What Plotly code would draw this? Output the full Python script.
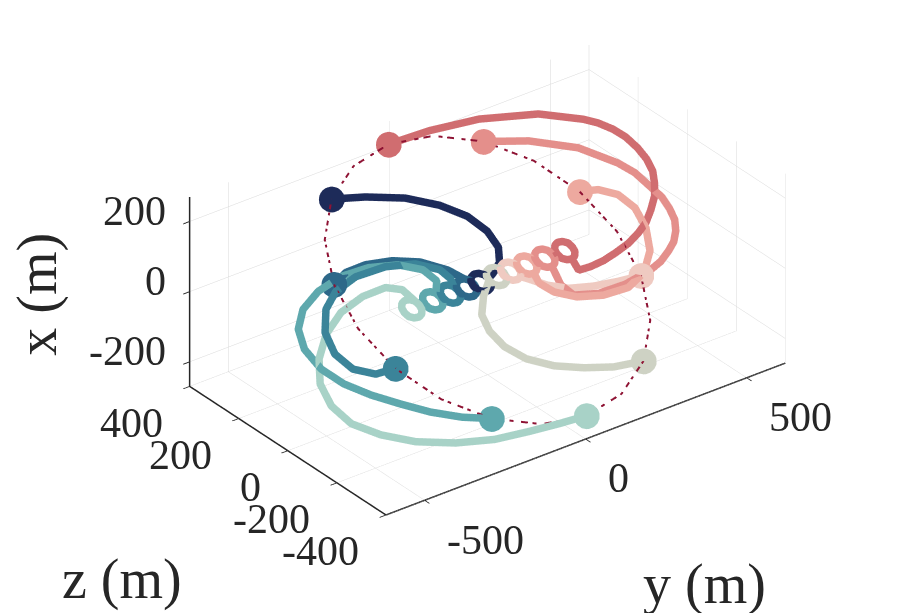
import plotly.graph_objects as go

# trajectory colours, 1 (navy) ... 10 (dark red)
colors = ["#1d2b59", "#2d6889", "#3b8499", "#5ea8ad", "#a8d2c7",
          "#ced2c4", "#efcac1", "#eda99f", "#e48f8b", "#d06d70"]

# formation circle (m)
circle_x = [197, 220, 221, 201, 161, 105, 39, -31, -98, -155, -197,
            -220, -221, -201, -161, -105, -39, 31, 98, 155, 197]
circle_y = [-271, -153, -20, 114, 238, 338, 405, 433, 418, 362, 271,
            153, 20, -114, -238, -338, -405, -433, -418, -362, -271]
circle_z = [280, 345, 377, 371, 329, 255, 156, 42, -77, -188, -280,
            -345, -377, -371, -329, -255, -156, -42, 77, 188, 280]

# trajectories (x, y, z in m)
t1_x = [197, 177, 149, 117, 86, 56, 30, 12, 4,
        -1, -8, -13, -14, -12, -7, 1, 8, 13, 14, 12, 7, -1]
t1_y = [-271, -177, -73, 7, 61, 87, 88, 64, 28,
        7, 6, -3, -16, -30, -42, -47, -46, -37, -24, -10, 2, 7]
t1_z = [280, 265, 240, 204, 162, 115, 71, 35, 13,
        5, -7, -18, -24, -23, -16, -5, 7, 18, 24, 23, 16, 5]

t2_x = [98, 104, 99, 86, 66, 38,
        12, 7, -1, -8, -13, -14, -12, -7, 1, 8, 13, 14, 12]
t2_y = [-418, -365, -298, -220, -148, -88,
        -55, -43, -38, -39, -48, -61, -75, -87, -92, -91, -82, -69, -55]
t2_z = [77, 98, 106, 100, 81, 46,
        23, 16, 5, -7, -18, -24, -23, -16, -5, 7, 18, 24, 23]

t3_x = [-39, -32, -11, 18, 49, 75, 89, 92, 84, 67, 44, 26,
        7, -1, -8, -13, -14, -12, -7, 1, 8, 13, 14, 12, 7]
t3_y = [-405, -468, -520, -541, -528, -484, -426, -346, -249, -164, -109, -96,
        -93, -88, -89, -98, -111, -125, -137, -142, -141, -132, -119, -105, -93]
t3_z = [-156, -159, -134, -88, -31, 23, 59, 83, 89, 79, 51, 24,
        16, 5, -7, -18, -24, -23, -16, -5, 7, 18, 24, 23, 16]

t4_x = [-161, -139, -112, -83, -53, -32, -15, 14, 51, 85, 101, 102, 94, 77, 55, 33,
        7, -1, -8, -13, -14, -12, -7, 1, 8, 13, 14, 12, 7]
t4_y = [-238, -315, -390, -455, -518, -560, -578, -582, -573, -540, -473, -386, -296, -211, -154, -137,
        -148, -143, -144, -153, -166, -180, -192, -197, -196, -187, -174, -160, -148]
t4_z = [-329, -310, -280, -244, -205, -150, -81, -18, 19, 43, 69, 92, 97, 87, 61, 27,
        16, 5, -7, -18, -24, -23, -16, -5, 7, 18, 24, 23, 16]

t5_x = [-221, -212, -201, -187, -164, -136, -110, -102, -84, -46, 3, 41, 61, 65, 60, 46,
        7, -1, -8, -13, -14, -12, -7, 1, 8, 13, 14, 12, 7]
t5_y = [20, -66, -160, -267, -379, -483, -558, -591, -596, -592, -571, -523, -450, -363, -286, -245,
        -213, -208, -209, -218, -231, -245, -257, -262, -261, -252, -239, -225, -213]
t5_z = [-377, -380, -381, -380, -367, -341, -298, -221, -146, -95, -63, -29, 7, 32, 40, 26,
        16, 5, -7, -18, -24, -23, -16, -5, 7, 18, 24, 23, 16]

t6_x = [-197, -184, -165, -143, -116, -88, -60, -36, -16,
        1, 8, 13, 14, 12, 7, -1, -8, -13, -14, -12, -7, 1]
t6_y = [271, 181, 100, 24, -38, -74, -87, -78, -39,
        1, 2, 11, 24, 38, 50, 55, 54, 45, 32, 18, 6, 1]
t6_z = [-280, -277, -262, -240, -208, -167, -123, -79, -35,
        -5, 7, 18, 24, 23, 16, 5, -7, -18, -24, -23, -16, -5]

t7_x = [-98, -89, -78, -64, -46, -27,
        -13, -14, -12, -7, 1, 8, 13, 14, 12, 7, -1, -8, -13]
t7_y = [418, 347, 272, 202, 150, 113,
        89, 76, 62, 50, 45, 46, 55, 68, 82, 94, 99, 98, 89]
t7_z = [-77, -78, -75, -66, -46, -22,
        -18, -24, -23, -16, -5, 7, 18, 24, 23, 16, 5, -7, -18]

t8_x = [39, 29, 10, -17, -47, -76, -96, -103, -95, -79, -58, -38,
        -14, -12, -7, 1, 8, 13, 14, 12, 7, -1, -8, -13, -14]
t8_y = [405, 458, 502, 524, 517, 487, 432, 363, 282, 208, 156, 132,
        126, 112, 100, 95, 96, 105, 118, 132, 144, 149, 148, 139, 126]
t8_z = [156, 150, 127, 87, 33, -23, -71, -98, -102, -91, -67, -37,
        -24, -23, -16, -5, 7, 18, 24, 23, 16, 5, -7, -18, -24]

t9_x = [161, 131, 90, 56, 41, 23, 5, -11, -32, -50, -69, -81, -95, -98, -97, -90, -75, -55,
        -14, -12, -7, 1, 8, 13, 14, 12, 7, -1, -8, -13, -14]
t9_y = [238, 360, 480, 548, 568, 576, 586, 583, 582, 570, 553, 529, 496, 451, 360, 273, 203, 187,
        182, 168, 156, 151, 152, 161, 174, 188, 200, 205, 204, 195, 182]
t9_z = [329, 305, 260, 188, 145, 95, 59, 23, 1, -19, -33, -44, -55, -70, -89, -95, -85, -54,
        -24, -23, -16, -5, 7, 18, 24, 23, 16, 5, -7, -18, -24]

t10_x = [221, 209, 189, 155, 119, 115, 108, 103, 95, 81, 58, 33, 4, -20, -41, -48, -53, -55, -56, -54, -50,
         -14, -12, -7, 1, 8, 13, 14, 12, 7, -1, -8, -13, -14]
t10_y = [-20, 114, 267, 435, 545, 567, 585, 592, 591, 590, 590, 584, 577, 552, 526, 485, 441, 393, 345, 300, 261,
         244, 230, 218, 213, 214, 223, 236, 250, 262, 267, 266, 257, 244]
t10_z = [377, 386, 385, 363, 325, 294, 257, 214, 164, 126, 101, 86, 76, 59, 45, 24, 6, -8, -20, -27, -29,
         -24, -23, -16, -5, 7, 18, 24, 23, 16, 5, -7, -18, -24]

trajectories = [(t1_x, t1_y, t1_z), (t2_x, t2_y, t2_z), (t3_x, t3_y, t3_z),
                (t4_x, t4_y, t4_z), (t5_x, t5_y, t5_z), (t6_x, t6_y, t6_z),
                (t7_x, t7_y, t7_z), (t8_x, t8_y, t8_z), (t9_x, t9_y, t9_z),
                (t10_x, t10_y, t10_z)]

y_range = [-620, 620]
z_range = [-400, 400]
x_range = [-270, 270]
y_ticks = [-500, 0, 500]
z_ticks = [-400, -200, 0, 200, 400]
x_ticks = [-200, 0, 200]

fig = go.Figure()

# plotly x <- y, plotly y <- z, plotly z (vertical) <- x
axis_col = "#262626"
for ex, ey, ez in [([y_range[0]] * 2, [z_range[1]] * 2, x_range),
                   ([y_range[0]] * 2, z_range, [x_range[0]] * 2),
                   (y_range, [z_range[0]] * 2, [x_range[0]] * 2)]:
    fig.add_trace(go.Scatter3d(x=ex, y=ey, z=ez, mode="lines",
                               line=dict(color=axis_col, width=3),
                               hoverinfo="skip", showlegend=False))

fig.add_trace(go.Scatter3d(x=circle_y, y=circle_z, z=circle_x, mode="lines",
                           line=dict(color="#8e1233", width=4, dash="dashdot"),
                           hoverinfo="skip", showlegend=False))

for (tx, ty, tz), c in zip(trajectories, colors):
    fig.add_trace(go.Scatter3d(x=ty, y=tz, z=tx, mode="lines",
                               line=dict(color=c, width=15), showlegend=False))

fig.add_trace(go.Scatter3d(x=[t[1][0] for t in trajectories],
                           y=[t[2][0] for t in trajectories],
                           z=[t[0][0] for t in trajectories],
                           mode="markers",
                           marker=dict(size=15, color=colors, line=dict(width=0)),
                           showlegend=False))

label_font = dict(family="Liberation Serif", size=42, color=axis_col)

# tick labels as scene annotations placed at the tick positions on the front edges
tick_labels = []
for v in x_ticks:
    tick_labels.append(dict(x=y_range[0], y=z_range[1], z=v, text=str(v),
                            showarrow=False, xanchor="right", yanchor="middle",
                            xshift=-22, yshift=11, font=label_font))
for v in z_ticks:
    tick_labels.append(dict(x=y_range[0], y=v, z=x_range[0], text=str(v),
                            showarrow=False, xanchor="right", yanchor="middle",
                            xshift=-25, yshift=-36, font=label_font))
for v in y_ticks:
    tick_labels.append(dict(x=v, y=z_range[0], z=x_range[0], text=str(v),
                            showarrow=False, xanchor="left", yanchor="middle",
                            xshift=20, yshift=-39, font=label_font))

common = dict(showbackground=False, gridcolor="#d8d8d8", gridwidth=1,
              showline=False, ticks="outside", ticklen=8, tickcolor=axis_col,
              tickwidth=2, zeroline=False, showspikes=False, title=dict(text=""),
              showticklabels=False, tickmode="array")

title_font = dict(family="Liberation Serif", size=56, color=axis_col)
zoom = 1.846

fig.update_layout(
    width=920, height=613,
    paper_bgcolor="white",
    margin=dict(l=0, r=0, t=0, b=0),
    scene=dict(
        xaxis=dict(range=y_range, tickvals=y_ticks, **common),
        yaxis=dict(range=z_range, tickvals=z_ticks, **common),
        zaxis=dict(range=x_range, tickvals=x_ticks, **common),
        aspectmode="manual",
        aspectratio=dict(x=zoom, y=zoom * 800 / 1240, z=zoom * 540 / 1240),
        camera=dict(eye=dict(x=-1.05, y=-1.378, z=0.998),
                    up=dict(x=0, y=0, z=1), center=dict(x=0, y=0, z=0),
                    projection=dict(type="orthographic")),
        domain=dict(x=[0.0513, 0.9913], y=[0.112, 1.0]),
        annotations=tick_labels,
    ),
    annotations=[
        dict(text="x (m)", x=0.032, y=0.533, xref="paper", yref="paper",
             xanchor="center", yanchor="middle",
             showarrow=False, textangle=-90, font=title_font),
        dict(text="y (m)", x=0.757, y=0.059, xref="paper", yref="paper",
             xanchor="center", yanchor="middle", showarrow=False, font=title_font),
        dict(text="z (m)", x=0.124, y=0.067, xref="paper", yref="paper",
             xanchor="center", yanchor="middle", showarrow=False, font=title_font),
    ],
)

fig.write_html("out.html")
